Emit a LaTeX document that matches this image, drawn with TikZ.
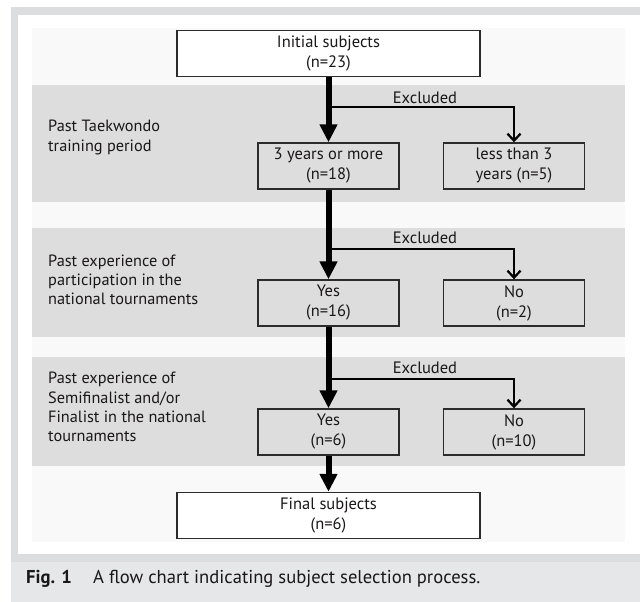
\documentclass[tikz,border=0pt]{standalone}
\usepackage{fontspec}
\setmainfont{PT Sans}
\usetikzlibrary{arrows.meta}
\definecolor{framegray}{HTML}{DCDDDE}
\definecolor{bandgray}{HTML}{DDDDDD}
\definecolor{panelwhite}{HTML}{F9F9F9}
\definecolor{capgray}{HTML}{E6E7E8}
\definecolor{txt}{HTML}{1A1718}
\definecolor{boxline}{HTML}{2B2B2B}
\newcommand\boxfont{\fontsize{16.5}{20}\selectfont}
\newcommand\labfont{\fontsize{16.3}{19.3}\selectfont}
\newcommand\capfont{\fontsize{18.6}{22}\selectfont}
\begin{document}
\begin{tikzpicture}[x=1pt,y=-1pt,
  box/.style={draw=boxline, line width=1.4pt, minimum width=141pt, minimum height=46pt,
    inner sep=0pt, align=center, font=\boxfont, text=txt},
  bigbox/.style={box, fill=white, minimum width=303pt},
  sidelabel/.style={anchor=west, align=left, font=\labfont, text=txt, inner sep=0pt},
  exlabel/.style={font=\boxfont, text=txt, inner sep=0pt},
  mainflow/.style={draw=black, line width=6pt, -{Triangle[width=17pt,length=18pt]}},
  branch/.style={draw=black, line width=2pt, -{Straight Barb[width=13pt,length=7pt,line width=2.2pt]}},
  captext/.style={anchor=base west, font=\capfont, text=txt, inner sep=0pt}]
\useasboundingbox (0,0) rectangle (640,602);
% backgrounds
\fill[white] (0,0) rectangle (640,602);
\fill[framegray] (11,7) rectangle (640,602);
\fill[white] (18,15) rectangle (640,554);
\fill[capgray] (11,562) rectangle (640,602);
\fill[panelwhite] (32,28) rectangle (625,542);
\fill[bandgray] (32,85) rectangle (625,202);
\fill[bandgray] (32,228) rectangle (625,337);
\fill[bandgray] (32,357) rectangle (625,466);
% boxes
\node[bigbox] (init) at (328.5,53.5) {Initial subjects\\(n=23)};
\node[box] (y3) at (328.5,166) {3 years or more\\(n=18)};
\node[box] (lt3) at (514,166) {less than 3\\years (n=5)};
\node[box] (yes1) at (328.5,303) {Yes\\(n=16)};
\node[box] (no1) at (514,303) {No\\(n=2)};
\node[box] (yes2) at (328.5,432) {Yes\\(n=6)};
\node[box] (no2) at (514,432) {No\\(n=10)};
\node[bigbox] (final) at (328.5,515.5) {Final subjects\\(n=6)};
% side labels
\node[sidelabel] (l1) at (48,137.5) {Past Taekwondo\\training period};
\node[sidelabel] (l2) at (48,280) {Past experience of\\participation in the\\national tournaments};
\node[sidelabel] (l3) at (48,407) {Past experience of\\Semifinalist and/or\\Finalist in the national\\tournaments};
% excluded labels
\node[exlabel] (ex1) at (425,98) {Excluded};
\node[exlabel] (ex2) at (425,238) {Excluded};
\node[exlabel] (ex3) at (425,368) {Excluded};
% connectors
\coordinate (b1) at (328.5,107);
\coordinate (b2) at (328.5,249);
\coordinate (b3) at (328.5,379);
\draw[mainflow] (init.south) -- (y3.north);
\draw[mainflow] (y3.south) -- (yes1.north);
\draw[mainflow] (yes1.south) -- (yes2.north);
\draw[mainflow] (yes2.south) -- (final.north);
\draw[branch] (b1) -| (lt3.north);
\draw[branch] (b2) -| (no1.north);
\draw[branch] (b3) -| (no2.north);
% caption
\node[captext, font=\capfont\bfseries] (fig) at (26,583) {Fig. 1};
\node[captext] (cap) at (93,583) {A flow chart indicating subject selection process.};
\end{tikzpicture}
\end{document}
